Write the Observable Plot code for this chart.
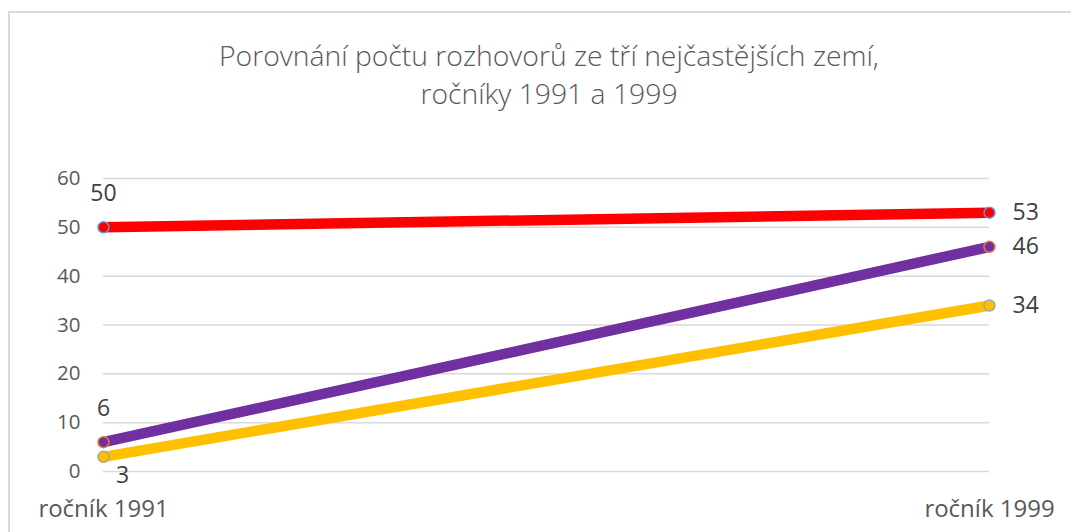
<!DOCTYPE html>
<html><head><meta charset="utf-8">
<script src="https://cdn.jsdelivr.net/npm/d3@7"></script>
<script src="https://cdn.jsdelivr.net/npm/@observablehq/plot@0.6"></script>
<style>
html,body{margin:0;padding:0;background:#fff;overflow:hidden;width:1071px;height:532px;}
#frame{position:absolute;left:8px;top:11px;width:1200px;height:600px;border-left:2px solid #d9d9d9;border-top:2px solid #d9d9d9;box-sizing:border-box;}
#title{position:absolute;left:149px;width:800px;top:36px;text-align:center;white-space:nowrap;font-family:"Open Sans",sans-serif;font-weight:300;font-size:28.3px;line-height:38px;color:#595959;}
#chart{position:absolute;left:0;top:120px;}
</style></head>
<body>
<div id="frame"></div>
<div id="title">Porovnání počtu rozhovorů ze tří nejčastějších zemí,<br>ročníky 1991 a 1999</div>
<div id="chart"></div>
<script>
const categories = ["ročník 1991", "ročník 1999"];
const seriesNames = ["země A", "země B", "země C"];
const seriesValues = [[50, 53], [6, 46], [3, 34]];
const seriesColors = ["#FF0000", "#7030A0", "#FFC000"];
const markerStrokes = ["#5B9BD5", "#ED7D31", "#A5A5A5"];
const yTicks = [0, 10, 20, 30, 40, 50, 60];

const rows = [];
seriesNames.forEach((s, i) => categories.forEach((c, j) => rows.push({series: s, idx: i, cat: c, j, value: seriesValues[i][j]})));

const font = "'Open Sans', sans-serif";
const lastIdx = seriesNames.length - 1;
const left = rows.filter(d => d.j === 0);
const right = rows.filter(d => d.j === 1);
const leftAbove = left.filter(d => d.idx !== lastIdx);
const leftBelow = left.filter(d => d.idx === lastIdx);

const marks = [
  Plot.gridY(yTicks, {stroke: "#d9d9d9", strokeOpacity: 1, strokeWidth: 1.5}),
  Plot.text(yTicks, {y: d => d, text: d => String(d), frameAnchor: "left", textAnchor: "end", dx: -23, fontSize: 20.5, fill: "#595959", fontFamily: font}),
  Plot.axisX({tickSize: 0, tickPadding: 28, fontSize: 24, fill: "#595959", fontFamily: font, label: null})
];
seriesNames.forEach((s, i) => {
  const d = rows.filter(r => r.idx === i);
  marks.push(Plot.line(d, {x: "cat", y: "value", stroke: seriesColors[i], strokeWidth: 10.5, strokeLinecap: "butt"}));
  marks.push(Plot.dot(d, {x: "cat", y: "value", r: 5.5, fill: seriesColors[i], stroke: markerStrokes[i], strokeWidth: 1.5}));
});
marks.push(
  Plot.text(leftAbove, {x: "cat", y: "value", text: "value", dy: -34, fontSize: 23, fill: "#404040", fontFamily: font}),
  Plot.text(leftBelow, {x: "cat", y: "value", text: "value", dy: 19, dx: 19, fontSize: 23, fill: "#404040", fontFamily: font}),
  Plot.text(right, {x: "cat", y: "value", text: "value", dx: 23, textAnchor: "start", fontSize: 23, fill: "#404040", fontFamily: font})
);

const chart = Plot.plot({
  width: 1071,
  height: 412,
  marginTop: 58,
  marginBottom: 61,
  marginLeft: 103,
  marginRight: 82,
  x: {type: "point", domain: categories, padding: 0},
  y: {domain: [0, 60], axis: null},
  style: {background: "transparent", fontFamily: font},
  marks
});
document.getElementById("chart").appendChild(chart);
</script>
</body></html>
